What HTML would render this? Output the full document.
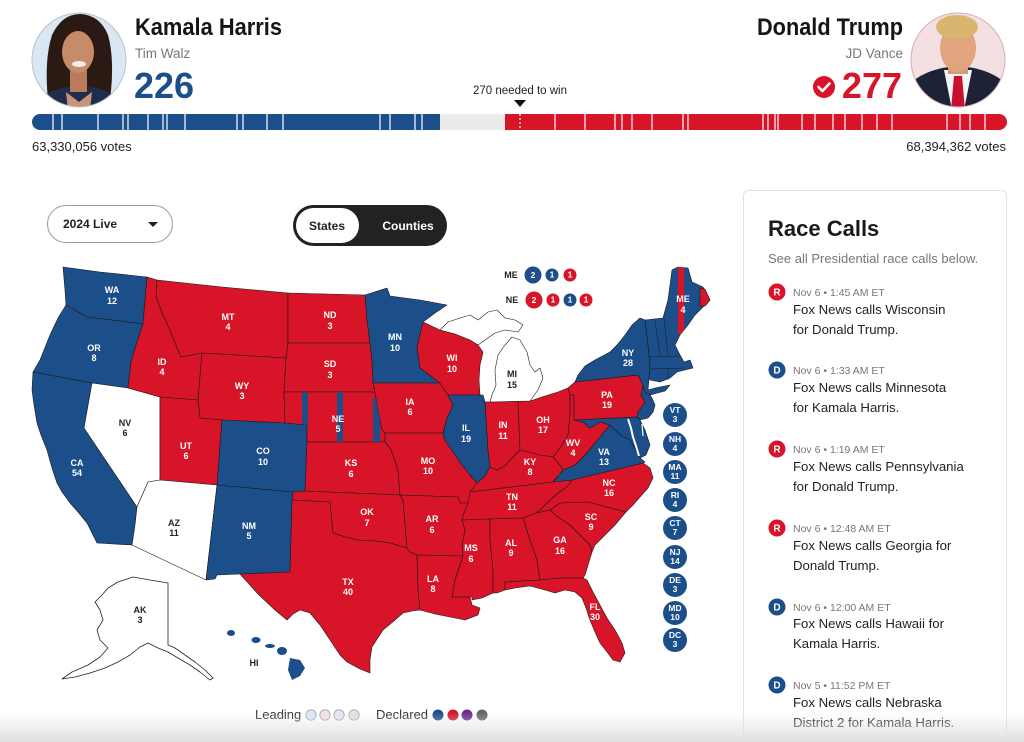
<!DOCTYPE html>
<html><head><meta charset="utf-8"><style>
html,body{margin:0;padding:0;background:#fff;overflow:hidden;}
svg{display:block;font-family:"Liberation Sans",Arial,sans-serif;}
.st{fill:#fff;font-weight:bold;font-size:9px;text-anchor:middle;}
.sd{fill:#222;font-weight:bold;font-size:9px;text-anchor:middle;}
.b{fill:#1c4e8a;}
.r{fill:#d81428;}
.w{fill:#fff;}
.map polygon{stroke:#1a1a1a;stroke-width:0.6;stroke-linejoin:round;}
.ci{fill:#fff;font-weight:bold;font-size:8.5px;text-anchor:middle;}
</style></head><body>
<svg width="1024" height="742" viewBox="0 0 1024 742" xmlns="http://www.w3.org/2000/svg">
<defs>
<clipPath id="ch"><circle cx="79" cy="60" r="47"/></clipPath>
<clipPath id="ct"><circle cx="958" cy="60" r="47"/></clipPath>
<clipPath id="bar"><rect x="32" y="114" width="975" height="16" rx="8"/></clipPath>
<clipPath id="neclip"><polygon points="284,392 375,392 378,410 382,430 385,433 385,442 307,442 307,425 285,423"/></clipPath>
<clipPath id="neng"><polygon points="645,320 663,318 668,300 672,270 678,267 688,268 692,282 703,287 710,300 705,305 695,315 688,325 680,335 675,345 680,355 684,362 690,360 693,368 685,370 677,372 670,378 660,382 650,380 649,378 650,365 648,345"/></clipPath>
<linearGradient id="fade" x1="0" y1="0" x2="0" y2="1">
<stop offset="0" stop-color="#e4e4e4" stop-opacity="0"/>
<stop offset="1" stop-color="#e0e0e0" stop-opacity="1"/>
</linearGradient>
</defs>

<!-- Harris photo -->
<g clip-path="url(#ch)">
<rect x="30" y="10" width="100" height="100" fill="#d9e6f3"/>
<path d="M48,100 Q44,60 52,35 Q62,14 80,14 Q100,15 108,35 Q115,60 110,100 Z" fill="#2a1a13"/>
<ellipse cx="79" cy="114" rx="46" ry="28" fill="#1f2d4d"/>
<rect x="70" y="70" width="17" height="22" fill="#b97c5b"/>
<path d="M66,92 L79,102 L92,92 L90,110 L68,110 Z" fill="#c89478"/>
<ellipse cx="78" cy="52" rx="16" ry="21" fill="#c68c6a"/>
<ellipse cx="79" cy="64" rx="7" ry="3" fill="#f4eee8"/>
</g>
<circle cx="79" cy="60" r="47" fill="none" stroke="#b9c3cc" stroke-width="1"/>

<!-- Trump photo -->
<g clip-path="url(#ct)">
<rect x="910" y="10" width="100" height="100" fill="#f3e0e3"/>
<path d="M908,110 L912,82 Q928,68 958,66 Q988,68 1004,82 L1008,110 Z" fill="#1c2336"/>
<polygon points="944,70 972,70 964,110 952,110" fill="#f4f4f4"/>
<polygon points="954,76 962,76 965,110 951,110" fill="#c8102e"/>
<rect x="948" y="58" width="20" height="16" fill="#d9977a"/>
<ellipse cx="958" cy="48" rx="18" ry="24" fill="#e2a47f"/>
<ellipse cx="957" cy="27" rx="21" ry="12" fill="#d9b66f"/>
</g>
<circle cx="958" cy="60" r="47" fill="none" stroke="#d6aeb3" stroke-width="1"/>

<!-- Header text -->
<text x="135" y="35" font-size="24" font-weight="bold" fill="#151515" textLength="147" lengthAdjust="spacingAndGlyphs">Kamala Harris</text>
<text x="135" y="58" font-size="13.5" fill="#777">Tim Walz</text>
<text x="134" y="98" font-size="36" font-weight="bold" fill="#1c4e8a">226</text>
<text x="757" y="35" font-size="24" font-weight="bold" fill="#151515" textLength="146" lengthAdjust="spacingAndGlyphs">Donald Trump</text>
<text x="903" y="58" font-size="13.5" fill="#777" text-anchor="end">JD Vance</text>
<text x="902" y="98" font-size="36" font-weight="bold" fill="#d81428" text-anchor="end">277</text>
<circle cx="824" cy="87" r="11" fill="#d81428"/>
<path d="M818.5,87 L822.5,91 L829.5,83.5" fill="none" stroke="#fff" stroke-width="2.6" stroke-linecap="round" stroke-linejoin="round"/>
<text x="520" y="94" font-size="11.5" fill="#222" text-anchor="middle">270 needed to win</text>
<polygon points="514,100 526,100 520,107" fill="#111"/>

<!-- Bar -->
<g clip-path="url(#bar)">
<rect x="32" y="114" width="975" height="16" fill="#ebebeb"/>
<rect x="32" y="114" width="408" height="16" fill="#1c4e8a"/>
<rect x="505" y="114" width="502" height="16" fill="#d81428"/>
<g stroke="#fff" stroke-width="1.2">
<line x1="53" y1="114" x2="53" y2="130"/><line x1="62" y1="114" x2="62" y2="130"/><line x1="98" y1="114" x2="98" y2="130"/><line x1="123" y1="114" x2="123" y2="130"/><line x1="128" y1="114" x2="128" y2="130"/><line x1="148" y1="114" x2="148" y2="130"/><line x1="163" y1="114" x2="163" y2="130"/><line x1="167" y1="114" x2="167" y2="130"/><line x1="185" y1="114" x2="185" y2="130"/><line x1="237" y1="114" x2="237" y2="130"/><line x1="243" y1="114" x2="243" y2="130"/><line x1="267" y1="114" x2="267" y2="130"/><line x1="283" y1="114" x2="283" y2="130"/><line x1="380" y1="114" x2="380" y2="130"/><line x1="390" y1="114" x2="390" y2="130"/><line x1="415" y1="114" x2="415" y2="130"/><line x1="422" y1="114" x2="422" y2="130"/>
<line x1="555" y1="114" x2="555" y2="130"/><line x1="585" y1="114" x2="585" y2="130"/><line x1="615" y1="114" x2="615" y2="130"/><line x1="622" y1="114" x2="622" y2="130"/><line x1="632" y1="114" x2="632" y2="130"/><line x1="652" y1="114" x2="652" y2="130"/><line x1="683" y1="114" x2="683" y2="130"/><line x1="688" y1="114" x2="688" y2="130"/><line x1="763" y1="114" x2="763" y2="130"/><line x1="768" y1="114" x2="768" y2="130"/><line x1="775" y1="114" x2="775" y2="130"/><line x1="778" y1="114" x2="778" y2="130"/><line x1="802" y1="114" x2="802" y2="130"/><line x1="815" y1="114" x2="815" y2="130"/><line x1="833" y1="114" x2="833" y2="130"/><line x1="845" y1="114" x2="845" y2="130"/><line x1="862" y1="114" x2="862" y2="130"/><line x1="877" y1="114" x2="877" y2="130"/><line x1="892" y1="114" x2="892" y2="130"/><line x1="947" y1="114" x2="947" y2="130"/><line x1="960" y1="114" x2="960" y2="130"/><line x1="970" y1="114" x2="970" y2="130"/><line x1="985" y1="114" x2="985" y2="130"/>
<line x1="520" y1="114" x2="520" y2="130" stroke-dasharray="2,2"/>
</g>
</g>
<text x="32" y="151" font-size="13" fill="#222">63,330,056 votes</text>
<text x="1006" y="151" font-size="13" fill="#222" text-anchor="end">68,394,362 votes</text>

<!-- Controls -->
<rect x="47.5" y="205.5" width="125" height="37" rx="18.5" fill="#fff" stroke="#999"/>
<text x="63" y="228" font-size="12" font-weight="bold" fill="#222">2024 Live</text>
<polygon points="148,222 158,222 153,227" fill="#222"/>
<rect x="293" y="205" width="154" height="41" rx="20.5" fill="#222"/>
<rect x="296" y="208" width="63" height="35" rx="17.5" fill="#fff"/>
<text x="327" y="230" font-size="12" font-weight="bold" fill="#222" text-anchor="middle">States</text>
<text x="408" y="230" font-size="12" font-weight="bold" fill="#fff" text-anchor="middle">Counties</text>

<!-- Map -->
<g class="map">
<polygon class="b" points="63,267 100,272 147,277 143,324 120,321 87,317 66,305 65,290"/>
<polygon class="b" points="66,305 87,317 120,321 143,324 136,345 131,362 128,388 92,383 33,372 40,360 50,335 58,318"/>
<polygon class="b" points="33,372 92,383 84,428 137,507 135,525 132,545 97,543 92,533 87,523 78,512 70,503 62,492 57,483 52,468 47,450 41,435 37,423 34,405 32,390"/>
<polygon class="w" points="92,383 128,388 160,397 160,480 148,482 137,507 84,428"/>
<polygon class="r" points="147,277 157,280 156,297 163,315 170,330 178,350 181,357 202,353 198,400 160,397 128,388 131,362 136,345 143,324"/>
<polygon class="r" points="157,280 222,287 288,293 288,343 286,358 202,353 181,357 178,350 170,330 163,315 156,297"/>
<polygon class="r" points="202,353 286,358 284,392 285,423 222,420 200,418 198,400"/>
<polygon class="r" points="160,397 198,400 200,418 222,420 217,485 160,480"/>
<polygon class="b" points="222,420 285,423 307,425 307,442 305,491 293,492 217,485"/>
<polygon class="w" points="160,480 217,485 206,580 132,545 135,525 137,507 148,482"/>
<polygon class="b" points="217,485 293,492 292,500 290,572 240,574 217,575 215,579 206,580"/>
<polygon class="r" points="288,293 365,295 367,320 370,343 288,343"/>
<polygon class="r" points="288,343 370,343 372,360 373,383 375,392 284,392 286,358"/>
<polygon class="r" points="284,392 375,392 378,410 382,430 385,433 385,442 307,442 307,425 285,423"/>
<polygon class="r" points="307,442 385,442 390,448 393,455 398,470 400,495 305,491"/>
<polygon class="r" points="293,492 305,491 400,495 403,500 407,548 390,543 375,541 357,540 345,537 333,533 330,502 292,500"/>
<polygon class="r" points="292,500 330,502 333,533 345,537 357,540 375,541 390,543 407,548 410,552 417,555 418,590 420,610 412,611 403,613 395,620 383,630 372,647 370,660 370,673 360,669 347,662 340,655 330,640 320,625 310,613 300,610 293,614 287,620 275,610 258,594 250,585 240,574 290,572"/>
<polygon class="b" points="365,295 387,288 390,296 420,300 447,305 435,313 423,322 417,347 420,368 440,383 373,383 372,360 370,343 367,320"/>
<polygon class="r" points="373,383 440,383 448,395 453,405 447,418 443,433 385,433 382,430 378,410 375,392"/>
<polygon class="r" points="385,433 443,433 445,440 455,455 462,465 470,475 477,483 472,492 470,503 460,503 458,497 400,495 398,470 393,455 390,448 385,442"/>
<polygon class="r" points="400,495 458,497 460,503 470,503 468,515 465,530 462,545 463,556 417,555 410,552 407,548 403,500"/>
<polygon class="r" points="417,555 463,556 460,565 455,580 452,597 470,597 472,605 480,608 478,615 465,620 450,617 435,614 420,610 418,590"/>
<polygon class="r" points="423,322 440,330 455,334 470,340 478,345 483,352 480,365 479,380 480,395 448,395 440,383 420,368 417,347"/>
<polygon class="b" points="448,395 483,395 485,402 488,450 490,467 485,476 477,483 470,475 462,465 455,455 445,440 443,433 447,418 453,405"/>
<polygon class="r" points="485,402 518,401 520,450 512,458 505,466 497,470 490,467 488,450"/>
<polygon class="r" points="518,401 530,401 545,396 558,392 568,388 570,395 570,415 568,435 560,448 553,457 540,455 528,452 520,450"/>
<polygon class="w" points="490,402 530,401 538,390 543,378 540,368 535,372 530,365 527,352 520,340 512,337 505,345 498,355 495,370 496,385 492,395"/>
<polygon class="w" points="440,330 448,322 460,318 470,315 478,320 488,312 497,310 505,318 515,320 523,325 518,332 505,330 495,333 485,340 478,345 470,340 455,334"/>
<polygon class="r" points="477,483 485,476 490,467 497,470 505,466 512,458 520,450 528,452 540,455 553,457 560,465 563,470 553,482 470,492"/>
<polygon class="r" points="470,492 553,482 572,480 568,486 558,493 548,502 540,510 536,513 523,518 490,519 462,520 465,510 468,503"/>
<polygon class="r" points="462,520 490,519 490,540 493,570 493,593 482,598 472,600 472,597 452,597 455,580 460,565 463,556 462,545 465,530"/>
<polygon class="r" points="490,519 523,518 530,540 537,560 540,580 505,582 505,590 497,593 493,593 493,570 490,540"/>
<polygon class="r" points="523,518 536,513 550,510 558,517 570,525 580,535 590,545 592,552 588,565 585,575 583,578 560,578 540,580 537,560 530,540"/>
<polygon class="r" points="505,582 540,580 560,578 583,578 587,580 593,592 600,605 607,618 615,630 622,643 625,653 620,662 613,660 607,652 600,643 595,632 590,620 586,608 582,598 575,592 565,590 555,593 545,590 530,586 515,588 505,590"/>
<polygon class="r" points="550,510 560,503 588,502 626,512 615,525 605,535 595,545 592,552 590,545 580,535 570,525 558,517"/>
<polygon class="r" points="572,480 643,463 650,468 653,478 648,488 640,497 633,505 626,512 588,502 560,503 550,510 536,513 540,510 548,502 558,493 568,486"/>
<polygon class="b" points="553,482 560,475 563,470 575,465 585,455 595,443 603,433 610,425 615,430 622,436 630,440 636,450 640,458 645,462 643,463 572,480"/>
<polygon class="r" points="570,395 574,395 574,420 583,422 590,428 600,422 610,425 603,433 595,443 585,455 575,465 563,470 560,465 553,457 560,448 568,435 570,415"/>
<polygon class="r" points="568,388 575,382 638,375 643,385 641,395 645,402 638,412 637,417 574,420 574,395 570,395"/>
<polygon class="b" points="574,420 637,417 640,420 645,430 650,445 646,455 640,458 636,450 630,440 622,436 615,430 610,425 600,422 590,428 583,422"/>
<polygon class="b" points="643,385 648,392 652,398 655,405 653,412 648,418 640,420 637,417 638,412 645,402 641,395"/>
<polygon class="b" points="575,382 578,375 585,366 595,360 610,352 617,345 625,335 632,325 640,318 645,320 648,345 650,365 649,378 648,390 655,388 670,385 665,391 650,395 645,392 643,385 638,375"/>
<polygon class="b" points="645,320 663,318 668,300 672,270 678,267 688,268 692,282 703,287 710,300 705,305 695,315 688,325 680,335 675,345 680,355 684,362 690,360 693,368 685,370 677,372 670,378 660,382 650,380 649,378 650,365 648,345"/>
<polygon class="r" points="700,288 705,289 710,300 705,306 700,306"/>
</g>
<g clip-path="url(#neclip)" fill="#1c4e8a">
<rect x="302" y="392" width="6" height="34"/>
<rect x="337" y="392" width="6" height="52"/>
<rect x="373" y="398" width="7" height="46"/>
</g>
<g clip-path="url(#neng)"><rect x="678" y="266" width="6" height="68" fill="#d81428"/></g>
<g fill="none" stroke="#1a1a1a" stroke-width="0.5">
<path d="M655,320 L660,356"/><path d="M664,318 L668,355"/><path d="M649,357 L680,356"/><path d="M650,369 L684,368"/><path d="M668,369 L668,380"/>
</g>
<path d="M628,419 L631,428 L633,437 L636,446 L639,456" fill="none" stroke="#fff" stroke-width="2"/>
<path d="M642,424 L643,436" fill="none" stroke="#fff" stroke-width="1.2"/>

<!-- Alaska -->
<polygon points="133,577 150,580 168,583 168,645 175,648 185,655 195,662 205,670 213,678 210,680 200,672 190,665 178,658 168,652 158,648 148,643 140,647 130,655 118,662 105,668 90,673 75,677 62,679 72,672 88,665 100,657 108,648 100,640 97,630 103,620 100,610 95,602 102,595 108,588 118,582" fill="#fff" stroke="#222" stroke-width="0.8" stroke-linejoin="round"/>
<!-- Hawaii -->
<g fill="#1c4e8a">
<ellipse cx="231" cy="633" rx="4" ry="3"/>
<ellipse cx="256" cy="640" rx="4.5" ry="3"/>
<ellipse cx="270" cy="646" rx="5" ry="2"/>
<ellipse cx="282" cy="651" rx="5" ry="4"/>
<polygon points="290,658 300,660 305,668 300,676 292,680 288,670"/>
</g>

<!-- State labels -->
<g class="st">
<text x="112" y="293">WA</text><text x="112" y="304">12</text>
<text x="94" y="351">OR</text><text x="94" y="361">8</text>
<text x="77" y="466">CA</text><text x="77" y="476">54</text>
<text x="162" y="365">ID</text><text x="162" y="375">4</text>
<text x="228" y="320">MT</text><text x="228" y="330">4</text>
<text x="242" y="389">WY</text><text x="242" y="399">3</text>
<text x="186" y="449">UT</text><text x="186" y="459">6</text>
<text x="263" y="454">CO</text><text x="263" y="465">10</text>
<text x="249" y="529">NM</text><text x="249" y="539">5</text>
<text x="330" y="318">ND</text><text x="330" y="329">3</text>
<text x="330" y="367">SD</text><text x="330" y="378">3</text>
<text x="338" y="422">NE</text><text x="338" y="432">5</text>
<text x="351" y="466">KS</text><text x="351" y="477">6</text>
<text x="367" y="515">OK</text><text x="367" y="526">7</text>
<text x="348" y="585">TX</text><text x="348" y="595">40</text>
<text x="395" y="340">MN</text><text x="395" y="351">10</text>
<text x="410" y="405">IA</text><text x="410" y="415">6</text>
<text x="428" y="464">MO</text><text x="428" y="474">10</text>
<text x="432" y="522">AR</text><text x="432" y="533">6</text>
<text x="433" y="582">LA</text><text x="433" y="592">8</text>
<text x="452" y="361">WI</text><text x="452" y="372">10</text>
<text x="466" y="431">IL</text><text x="466" y="442">19</text>
<text x="503" y="428">IN</text><text x="503" y="439">11</text>
<text x="543" y="423">OH</text><text x="543" y="433">17</text>
<text x="530" y="465">KY</text><text x="530" y="475">8</text>
<text x="512" y="500">TN</text><text x="512" y="510">11</text>
<text x="471" y="551">MS</text><text x="471" y="562">6</text>
<text x="511" y="546">AL</text><text x="511" y="556">9</text>
<text x="560" y="543">GA</text><text x="560" y="554">16</text>
<text x="595" y="610">FL</text><text x="595" y="620">30</text>
<text x="591" y="520">SC</text><text x="591" y="530">9</text>
<text x="609" y="486">NC</text><text x="609" y="496">16</text>
<text x="604" y="455">VA</text><text x="604" y="465">13</text>
<text x="573" y="446">WV</text><text x="573" y="456">4</text>
<text x="607" y="398">PA</text><text x="607" y="408">19</text>
<text x="628" y="356">NY</text><text x="628" y="366">28</text>
<text x="683" y="302">ME</text><text x="683" y="313">4</text>
</g>
<g class="sd">
<text x="125" y="426">NV</text><text x="125" y="436">6</text>
<text x="174" y="526">AZ</text><text x="174" y="536">11</text>
<text x="512" y="377">MI</text><text x="512" y="388">15</text>
<text x="140" y="613">AK</text><text x="140" y="623">3</text>
<text x="254" y="666">HI</text>
</g>

<!-- ME / NE district circles -->
<text x="511" y="278" class="sd">ME</text>
<circle cx="533" cy="275" r="8.5" fill="#1c4e8a"/><text x="533" y="278" class="ci" font-size="7">2</text>
<circle cx="552" cy="275" r="6.5" fill="#1c4e8a"/><text x="552" y="277.5" class="ci" font-size="6">1</text>
<circle cx="570" cy="275" r="6.5" fill="#d81428"/><text x="570" y="277.5" class="ci" font-size="6">1</text>
<text x="512" y="303" class="sd">NE</text>
<circle cx="534" cy="300" r="8.5" fill="#d81428"/><text x="534" y="303" class="ci" font-size="7">2</text>
<circle cx="553" cy="300" r="6.5" fill="#d81428"/><text x="553" y="302.5" class="ci" font-size="6">1</text>
<circle cx="570" cy="300" r="6.5" fill="#1c4e8a"/><text x="570" y="302.5" class="ci" font-size="6">1</text>
<circle cx="586" cy="300" r="6.5" fill="#d81428"/><text x="586" y="302.5" class="ci" font-size="6">1</text>

<!-- Small-state circles -->
<g>
<circle cx="675" cy="415" r="12" fill="#1c4e8a"/><text x="675" y="413" class="ci">VT</text><text x="675" y="422" class="ci">3</text>
<circle cx="675" cy="444" r="12" fill="#1c4e8a"/><text x="675" y="442" class="ci">NH</text><text x="675" y="451" class="ci">4</text>
<circle cx="675" cy="472" r="12" fill="#1c4e8a"/><text x="675" y="470" class="ci">MA</text><text x="675" y="479" class="ci">11</text>
<circle cx="675" cy="500" r="12" fill="#1c4e8a"/><text x="675" y="498" class="ci">RI</text><text x="675" y="507" class="ci">4</text>
<circle cx="675" cy="528" r="12" fill="#1c4e8a"/><text x="675" y="526" class="ci">CT</text><text x="675" y="535" class="ci">7</text>
<circle cx="675" cy="557" r="12" fill="#1c4e8a"/><text x="675" y="555" class="ci">NJ</text><text x="675" y="564" class="ci">14</text>
<circle cx="675" cy="585" r="12" fill="#1c4e8a"/><text x="675" y="583" class="ci">DE</text><text x="675" y="592" class="ci">3</text>
<circle cx="675" cy="613" r="12" fill="#1c4e8a"/><text x="675" y="611" class="ci">MD</text><text x="675" y="620" class="ci">10</text>
<circle cx="675" cy="640" r="12" fill="#1c4e8a"/><text x="675" y="638" class="ci">DC</text><text x="675" y="647" class="ci">3</text>
</g>

<!-- Legend -->
<text x="255" y="719" font-size="13" fill="#333">Leading</text>
<circle cx="311" cy="715" r="5.2" fill="#dce8f5" stroke="#9aa6b2" stroke-width="0.8"/>
<circle cx="325" cy="715" r="5.2" fill="#f6e1e5" stroke="#b0a0a4" stroke-width="0.8"/>
<circle cx="339" cy="715" r="5.2" fill="#ece2f2" stroke="#a9a0ae" stroke-width="0.8"/>
<circle cx="354" cy="715" r="5.2" fill="#e2e2e2" stroke="#aaa" stroke-width="0.8"/>
<text x="376" y="719" font-size="13" fill="#333">Declared</text>
<circle cx="438" cy="715" r="5.5" fill="#1c4e8a"/>
<circle cx="453" cy="715" r="5.5" fill="#d81428"/>
<circle cx="467" cy="715" r="5.5" fill="#6b2a8c"/>
<circle cx="482" cy="715" r="5.5" fill="#666"/>

<!-- Race calls panel -->
<path d="M743.5,742 V196.5 Q743.5,190.5 749.5,190.5 H1000.5 Q1006.5,190.5 1006.5,196.5 V742" fill="#fff" stroke="#e3e3e3"/>
<text x="768" y="236" font-size="22" font-weight="bold" fill="#1a1a1a">Race Calls</text>
<text x="768" y="263" font-size="13" fill="#777">See all Presidential race calls below.</text>

<g font-size="10.5" fill="#777">
<text x="793" y="296">Nov 6 • 1:45 AM ET</text>
<text x="793" y="374">Nov 6 • 1:33 AM ET</text>
<text x="793" y="453">Nov 6 • 1:19 AM ET</text>
<text x="793" y="532">Nov 6 • 12:48 AM ET</text>
<text x="793" y="611">Nov 6 • 12:00 AM ET</text>
<text x="793" y="689">Nov 5 • 11:52 PM ET</text>
</g>
<g font-size="13.2" fill="#222">
<text x="793" y="314">Fox News calls Wisconsin</text><text x="793" y="334">for Donald Trump.</text>
<text x="793" y="392">Fox News calls Minnesota</text><text x="793" y="412">for Kamala Harris.</text>
<text x="793" y="471">Fox News calls Pennsylvania</text><text x="793" y="491">for Donald Trump.</text>
<text x="793" y="550">Fox News calls Georgia for</text><text x="793" y="570">Donald Trump.</text>
<text x="793" y="628">Fox News calls Hawaii for</text><text x="793" y="648">Kamala Harris.</text>
<text x="793" y="707">Fox News calls Nebraska</text><text x="793" y="727">District 2 for Kamala Harris.</text>
</g>
<g font-size="10" font-weight="bold" fill="#fff" text-anchor="middle">
<circle cx="777" cy="292" r="8.5" fill="#d81428"/><text x="777" y="295.5">R</text>
<circle cx="777" cy="370" r="8.5" fill="#1c4e8a"/><text x="777" y="373.5">D</text>
<circle cx="777" cy="449" r="8.5" fill="#d81428"/><text x="777" y="452.5">R</text>
<circle cx="777" cy="528" r="8.5" fill="#d81428"/><text x="777" y="531.5">R</text>
<circle cx="777" cy="607" r="8.5" fill="#1c4e8a"/><text x="777" y="610.5">D</text>
<circle cx="777" cy="685" r="8.5" fill="#1c4e8a"/><text x="777" y="688.5">D</text>
</g>

<!-- bottom fade -->
<rect x="0" y="712" width="1024" height="30" fill="url(#fade)"/>
</svg>
</body></html>
